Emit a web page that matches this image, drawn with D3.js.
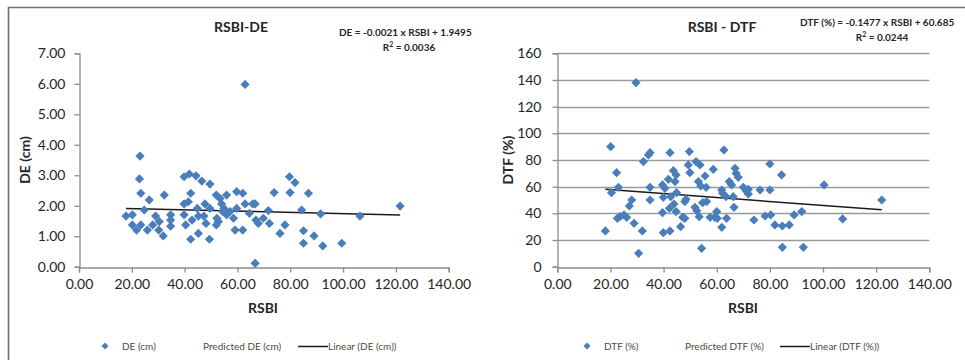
<!DOCTYPE html>
<html><head><meta charset="utf-8">
<script src="https://cdn.jsdelivr.net/npm/d3@7/dist/d3.min.js"></script>
<style>
html,body{margin:0;padding:0;background:#fff;}
svg{display:block;font-family:Lato,"Open Sans",sans-serif;}
</style></head>
<body>
<svg id="chart" width="965" height="360"></svg>
<script>
// ---- Data: RSBI vs DE (cm) ----
const deRSBI = [17.8,20.2,20.2,21.8,23.1,22.9,23.4,23.4,24.7,25.9,26.6,27.9,29.0,30.4,30.2,31.9,32.3,34.7,34.7,34.7,
  39.8,39.8,39.8,40.4,41.8,42.3,41.4,42.3,42.8,44.3,44.8,45.2,45.2,46.5,47.3,47.7,48.1,49.4,49.6,49.6,
  52.0,52.0,52.2,52.8,53.4,54.0,54.4,54.9,55.9,55.9,57.2,58.5,59.1,59.7,59.7,62.0,62.0,62.9,62.9,64.5,
  65.8,66.7,66.7,67.0,67.9,69.8,71.7,72.1,73.9,76.1,78.0,79.7,79.9,81.8,84.3,85.0,85.0,86.9,89.0,91.5,
  92.3,99.5,106.4,121.6];
const deValues = [1.66,1.70,1.37,1.20,3.63,2.88,2.41,1.37,1.86,1.20,2.19,1.37,1.66,1.48,1.20,1.01,2.35,1.70,1.53,1.33,
  2.95,2.06,1.70,1.37,3.04,2.41,2.13,0.90,1.53,2.98,1.91,1.09,1.66,2.81,1.66,2.06,1.42,0.90,2.71,1.91,
  2.35,1.37,1.59,1.48,2.24,2.06,1.81,1.91,2.35,1.70,1.81,1.59,1.20,2.46,1.91,2.41,1.20,5.98,2.06,1.75,
  2.06,2.06,0.11,1.53,1.42,1.59,1.84,1.42,2.43,1.09,1.37,2.95,2.43,2.76,1.86,1.18,0.77,2.41,1.01,1.73,
  0.68,0.77,1.66,1.99];
const deSlope = -0.0021, deIntercept = 1.9495;

// ---- Data: RSBI vs DTF (%) ----
const dtfRSBI = [18.1,20.1,20.4,22.3,22.6,23.0,23.6,25.1,26.1,27.1,28.0,28.9,29.6,30.6,32.0,32.4,34.3,34.9,34.9,34.9,
  39.6,39.6,39.9,39.9,40.5,41.8,42.4,42.2,42.4,42.7,43.7,44.3,44.7,44.9,44.7,43.9,46.4,47.2,48.0,48.0,
  48.4,49.3,49.7,49.9,51.8,52.2,52.5,53.1,53.4,53.7,54.0,54.3,54.7,55.6,56.0,56.2,57.5,58.7,59.3,60.0,
  60.2,61.9,61.9,62.2,62.7,63.5,63.7,64.7,65.6,66.2,66.5,66.9,67.3,68.1,70.0,71.3,71.9,71.9,74.0,76.3,
  78.2,80.0,80.0,80.3,81.9,84.4,84.7,84.7,87.3,89.1,92.0,92.6,100.4,107.4,122.1];
const dtfValues = [26.8,90,55.5,70.5,36.3,59.5,37.5,38.8,37,45.5,50,32.5,138,10,26.8,78.8,83.8,85.5,59.5,50,
  40.5,61.3,25.5,52,58.8,65.5,85.5,43.8,26.8,52.5,72,63.8,68.8,55.5,41.3,47,30,37,36.3,48.8,
  50.5,76.3,86.3,70.5,44.5,78.8,42,63.8,37.5,76.3,60.5,13.8,48,68,59.5,48.8,37,73,37,41.3,
  36.3,29.5,57.5,55,87.5,52.5,36.3,63.8,61.3,52.5,44.5,73.8,70,67,59.5,56.3,58,54.5,35,57.5,
  38,77,57.5,38.8,31.3,68.8,30.5,14.5,31.3,38.8,41.3,14.5,61.3,35.8,50];
const dtfSlope = -0.1477, dtfIntercept = 60.685;

// ---- Tick labels ----
const xTicks = [0,20,40,60,80,100,120,140];
const deTicks = [0,1,2,3,4,5,6,7];
const dtfTicks = [0,20,40,60,80,100,120,140,160];

const svg = d3.select("#chart");
const POINT = "#4a7ebb", AXIS = "#8c8c8c", TXT = "#262626";

// outer frame
svg.append("line").attr("x1",8).attr("x2",965).attr("y1",7.5).attr("y2",7.5).attr("stroke","#6f6f6f").attr("stroke-width",1.6);
svg.append("line").attr("x1",8.5).attr("x2",8.5).attr("y1",7).attr("y2",360).attr("stroke","#6f6f6f").attr("stroke-width",1.6);

function drawChart(o){
  const g = svg.append("g");
  const x = d3.scaleLinear().domain([0,140]).range(o.xr);
  const y = d3.scaleLinear().domain(o.yDomain).range([266.7,53.3]);

  if(o.grid){
    g.append("g").selectAll("line").data(o.yTicks.slice(1)).join("line")
      .attr("x1",o.xr[0]).attr("x2",o.xr[1])
      .attr("y1",d=>Math.round(y(d))+0.5).attr("y2",d=>Math.round(y(d))+0.5)
      .attr("stroke","#9a9a9a").attr("stroke-width",1.3);
  }

  const xa = g.append("g").attr("transform",`translate(0,${Math.round(y(o.yDomain[0]))+0.5})`)
    .call(d3.axisBottom(x).tickValues(xTicks).tickSize(5).tickPadding(7).tickFormat(d3.format(".2f")));
  const ya = g.append("g").attr("transform",`translate(${Math.round(o.xr[0])+0.5},0)`)
    .call(d3.axisLeft(y).tickValues(o.yTicks).tickSize(5).tickPadding(o.yPad).tickFormat(o.yFmt));
  [xa,ya].forEach(a=>{
    a.select(".domain").attr("stroke",AXIS).attr("stroke-width",1.3);
    a.selectAll(".tick line").attr("stroke",AXIS).attr("stroke-width",1.3);
    a.selectAll("text").attr("fill",TXT).attr("font-size",14).attr("font-family","Lato, sans-serif");
  });

  // trend line
  const ext = d3.extent(o.xs);
  g.append("line")
    .attr("x1",x(ext[0])).attr("y1",y(o.slope*ext[0]+o.intercept))
    .attr("x2",x(ext[1])).attr("y2",y(o.slope*ext[1]+o.intercept))
    .attr("stroke","#1a1a1a").attr("stroke-width",1.5);

  // points
  const diamond = "M0,-4.6L4.6,0L0,4.6L-4.6,0Z";
  g.append("g").selectAll("path").data(o.xs.map((v,i)=>[v,o.ys[i]])).join("path")
    .attr("d",diamond).attr("fill",POINT)
    .attr("transform",d=>`translate(${x(d[0])},${y(d[1])})`);

  // title
  g.append("text").attr("x",o.titleX).attr("y",32).attr("text-anchor","middle")
    .attr("font-weight",700).attr("font-size",14).attr("fill",TXT).text(o.title);
  // axis titles
  g.append("text").attr("x",o.xTitleX).attr("y",313).attr("text-anchor","middle")
    .attr("font-weight",700).attr("font-size",14).attr("fill",TXT).text("RSBI");
  g.append("text").attr("transform",`translate(${o.yTitleX},160) rotate(-90)`).attr("text-anchor","middle")
    .attr("font-weight",700).attr("font-size",14).attr("fill",TXT).text(o.yTitle);

  // equation
  g.append("text").attr("x",o.eqX).attr("y",o.eqY).attr("font-size",10).attr("font-weight",700)
    .attr("fill",TXT).text(o.eq);
  const r2 = g.append("text").attr("x",o.r2X).attr("y",o.eqY+15).attr("text-anchor","middle")
    .attr("font-size",10).attr("font-weight",700).attr("fill",TXT);
  r2.append("tspan").text("R");
  r2.append("tspan").attr("dy",-4).attr("font-size",7).text("2");
  r2.append("tspan").attr("dy",4).text(" = " + o.r2);

  // legend
  const LC = "#4d4d3a";
  g.append("path").attr("d","M0,-3.5L3.5,0L0,3.5L-3.5,0Z").attr("fill",POINT)
    .attr("transform",`translate(${o.legX},346)`);
  g.append("text").attr("x",o.legX+17).attr("y",350).attr("font-size",10).attr("fill",LC).text(o.leg1);
  g.append("text").attr("x",o.legX+98).attr("y",350).attr("font-size",10).attr("fill",LC).text(o.leg2);
  g.append("line").attr("x1",o.legX+193).attr("x2",o.legX+223).attr("y1",346.5).attr("y2",346.5)
    .attr("stroke","#1a1a1a").attr("stroke-width",1.5);
  g.append("text").attr("x",o.legX+223).attr("y",350).attr("font-size",10).attr("fill",LC).text(o.leg3);
}

drawChart({
  xr:[79,448.7], yDomain:[0,7], yTicks:deTicks, yFmt:d3.format(".2f"), yPad:9, grid:false,
  xs:deRSBI, ys:deValues, slope:deSlope, intercept:deIntercept,
  title:"RSBI-DE", titleX:241, xTitleX:263, yTitle:"DE (cm)", yTitleX:30,
  eq:"DE = -0.0021 x RSBI + 1.9495", eqX:339, eqY:36, r2X:409, r2:"0.0036",
  legX:105, leg1:"DE (cm)", leg2:"Predicted DE (cm)", leg3:"Linear (DE (cm))"
});
drawChart({
  xr:[557.3,929.3], yDomain:[0,160], yTicks:dtfTicks, yFmt:d3.format("d"), yPad:11, grid:true,
  xs:dtfRSBI, ys:dtfValues, slope:dtfSlope, intercept:dtfIntercept,
  title:"RSBI - DTF", titleX:722, xTitleX:743, yTitle:"DTF (%)", yTitleX:513,
  eq:"DTF (%) = -0.1477 x RSBI + 60.685", eqX:800, eqY:26, r2X:882, r2:"0.0244",
  legX:587, leg1:"DTF (%)", leg2:"Predicted DTF (%)", leg3:"Linear (DTF (%))"
});
</script>
</body></html>
